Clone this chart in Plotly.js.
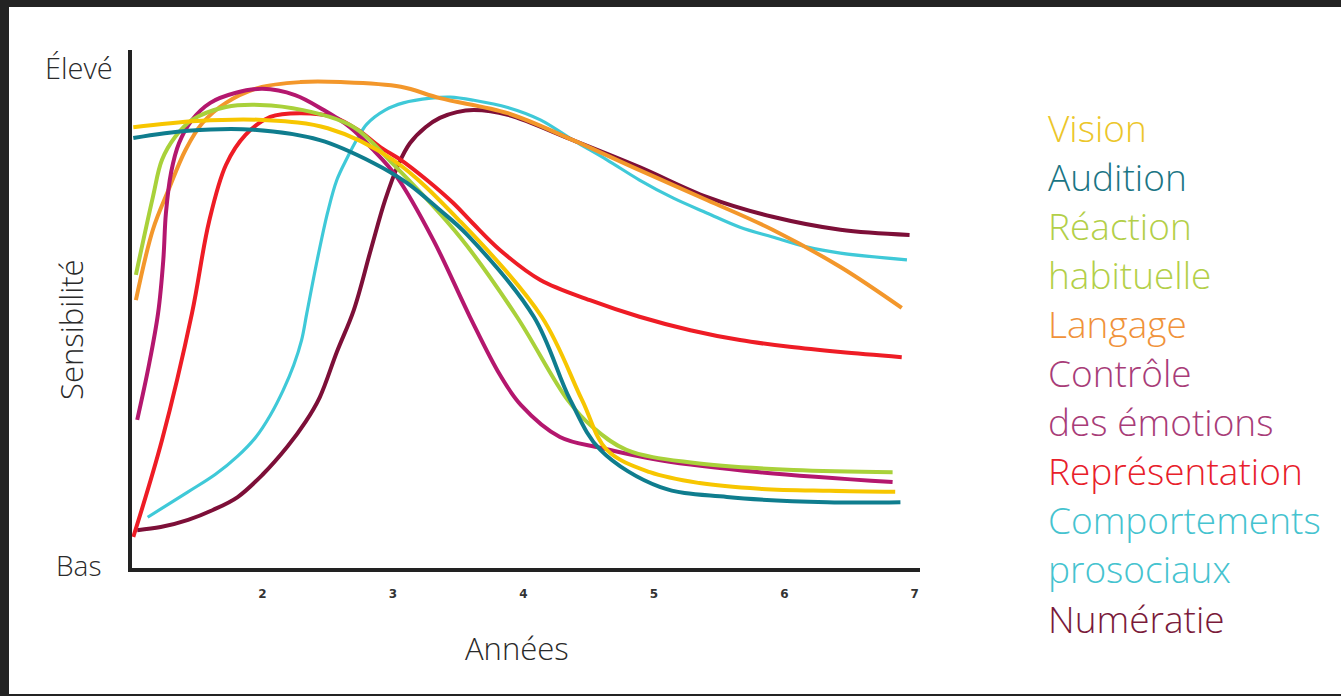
<!DOCTYPE html>
<html>
<head>
<meta charset="utf-8">
<script src="https://cdn.plot.ly/plotly-3.0.1.min.js"></script>
<style>
  html, body { margin: 0; padding: 0; background: #232323; width: 1341px; height: 696px; overflow: hidden; }
  #chart { position: absolute; left: 9px; top: 7px; width: 1332px; height: 687px; background: #fff; }
</style>
</head>
<body>
<div id="chart"></div>
<script>
// ---- Data (x = années, y = sensibilité 0 = Bas, 100 = Élevé) ----
const seriesNames = ["Vision", "Audition", "Réaction habituelle", "Langage",
  "Contrôle des émotions", "Représentation", "Comportements prosociaux", "Numératie"];
const legendLabels = ["Vision", "Audition", "Réaction<br>habituelle", "Langage",
  "Contrôle<br>des émotions", "Représentation", "Comportements<br>prosociaux", "Numératie"];

const visionX = [1.01, 1.50, 2.00, 2.50, 3.00, 3.52, 4.14, 4.45, 4.64, 4.97, 5.35, 5.81, 6.35, 6.85];
const visionY = [85.1, 86.3, 86.5, 84.9, 78.8, 66.8, 48.5, 32.4, 22.8, 18.5, 16.4, 15.3, 14.9, 14.7];

const auditionX = [1.01, 1.43, 1.93, 2.44, 2.85, 3.11, 3.36, 3.57, 4.08, 4.36, 4.59, 5.05, 5.56, 6.33, 6.89];
const auditionY = [83.0, 84.4, 84.6, 82.6, 78.2, 74.3, 69.1, 64.3, 48.5, 32.4, 22.8, 15.6, 13.7, 12.7, 12.7];

const reactionX = [1.03, 1.16, 1.23, 1.33, 1.46, 1.72, 1.98, 2.31, 2.70, 3.00, 3.52, 3.95, 4.34, 4.53, 4.79, 5.30, 6.07, 6.83];
const reactionY = [56.6, 71.6, 78.8, 83.2, 86.5, 89.0, 89.4, 88.4, 85.1, 78.0, 63.7, 48.5, 32.4, 27.2, 22.8, 20.3, 18.9, 18.5];

const langageX = [1.03, 1.16, 1.28, 1.41, 1.54, 1.72, 1.97, 2.29, 2.60, 3.06, 3.36, 3.88, 4.38, 4.89, 5.41, 5.91, 6.43, 6.90];
const langageY = [51.7, 65.3, 73.0, 80.7, 85.9, 89.8, 92.7, 93.8, 93.8, 92.9, 90.7, 87.8, 82.6, 76.8, 71.0, 65.3, 58.1, 50.2];

const controleX = [1.04, 1.13, 1.20, 1.24, 1.26, 1.30, 1.36, 1.46, 1.60, 1.79, 2.00, 2.25, 2.47, 2.67, 2.85, 3.03, 3.31, 3.59, 3.82, 3.98, 4.28, 4.59, 5.05, 5.81, 6.83];
const controleY = [28.6, 39.2, 49.2, 59.5, 68.5, 76.4, 82.0, 86.5, 89.8, 91.7, 92.5, 91.3, 88.4, 85.1, 80.7, 75.5, 63.3, 48.5, 37.3, 31.5, 25.3, 23.2, 20.8, 18.5, 16.6];

const representationX = [1.01, 1.23, 1.46, 1.59, 1.72, 1.87, 2.06, 2.29, 2.54, 2.73, 2.90, 3.06, 3.26, 3.46, 3.61, 3.82, 4.13, 4.51, 4.89, 5.28, 5.66, 6.04, 6.43, 6.90];
const representationY = [6.0, 24.7, 49.2, 66.8, 77.8, 83.6, 87.1, 87.8, 87.1, 84.6, 81.3, 78.8, 74.9, 70.5, 66.6, 61.4, 55.6, 51.7, 48.5, 45.9, 44.0, 42.7, 41.7, 40.7];

const prosociauxX = [1.12, 1.43, 1.64, 1.81, 1.95, 2.06, 2.16, 2.24, 2.30, 2.34, 2.42, 2.50, 2.57, 2.65, 2.73, 2.80, 2.94, 3.08, 3.29, 3.44, 3.62, 3.88, 4.13, 4.38, 4.64, 4.89, 5.15, 5.41, 5.66, 5.91, 6.17, 6.43, 6.94];
const prosociauxY = [9.8, 14.7, 18.1, 21.6, 25.3, 29.5, 34.4, 39.2, 44.0, 49.2, 59.5, 68.7, 74.9, 79.2, 83.0, 85.7, 88.4, 89.8, 90.7, 90.9, 90.3, 88.9, 86.5, 82.6, 78.8, 74.9, 71.4, 68.5, 65.8, 63.9, 62.0, 60.8, 59.5];

const numeratieX = [1.04, 1.22, 1.43, 1.62, 1.81, 2.00, 2.19, 2.33, 2.44, 2.57, 2.70, 2.83, 2.94, 3.04, 3.13, 3.25, 3.36, 3.49, 3.62, 3.88, 4.38, 4.89, 5.41, 5.91, 6.43, 6.96];
const numeratieY = [7.3, 7.9, 9.3, 11.2, 13.7, 18.0, 23.4, 28.2, 33.0, 41.7, 49.8, 61.4, 71.0, 77.8, 82.0, 85.1, 86.9, 88.0, 88.4, 87.5, 82.6, 77.4, 71.6, 67.8, 65.3, 64.3];

const xTickVals = [2, 3, 4, 5, 6, 7];
const xTickText = ["2", "3", "4", "5", "6", "7"];
const yLevelLabels = ["Bas", "Élevé"];
const xTitle = "Années";
const yTitle = "Sensibilité";

// ---- Styles ----
const lineColors = ["#f7c600", "#0f7d8e", "#a9d13a", "#f3972b", "#b4176e", "#ee1c25", "#3fc9d8", "#7d0f38"];
const textColors = ["#ecc62a", "#1a7584", "#b3cf48", "#f0923a", "#a83c78", "#e8202a", "#45c3cf", "#7a1a3a"];
const lineWidths = [4, 4, 4, 4, 4, 4, 3.2, 4];

const xs = [visionX, auditionX, reactionX, langageX, controleX, representationX, prosociauxX, numeratieX];
const ys = [visionY, auditionY, reactionY, langageY, controleY, representationY, prosociauxY, numeratieY];

// draw order (back to front)
const order = [6, 7, 3, 5, 4, 2, 0, 1];
const traces = order.map(i => ({
  type: "scatter", mode: "lines", name: seriesNames[i],
  x: xs[i], y: ys[i],
  line: { color: lineColors[i], width: lineWidths[i], shape: "spline", smoothing: 1 },
  hoverinfo: "name"
}));

const W = 1332, H = 687;
const M = { l: 123, r: 421, t: 43, b: 126 };
const pw = W - M.l - M.r, ph = H - M.t - M.b;
const px2paperX = px => (px - M.l) / pw;
const px2paperY = py => (H - M.b - py) / ph;
const FONT = "Open Sans, sans-serif";

const annotations = [];
// Left labels Élevé / Bas
annotations.push({ xref: "paper", yref: "paper", x: px2paperX(70), y: px2paperY(60),
  text: yLevelLabels[1], showarrow: false, xanchor: "center", yanchor: "middle",
  font: { family: FONT, size: 29, color: "#2a2a2a", weight: 300 } });
annotations.push({ xref: "paper", yref: "paper", x: px2paperX(69), y: px2paperY(558),
  text: yLevelLabels[0], showarrow: false, xanchor: "center", yanchor: "middle",
  font: { family: FONT, size: 28, color: "#2a2a2a", weight: 300 } });
// Y title (rotated)
annotations.push({ xref: "paper", yref: "paper", x: px2paperX(62), y: px2paperY(323),
  text: yTitle, showarrow: false, textangle: -90, xanchor: "center", yanchor: "middle",
  font: { family: FONT, size: 31, color: "#2a2a2a", weight: 300 } });
// X title
annotations.push({ xref: "paper", yref: "paper", x: px2paperX(508), y: px2paperY(641),
  text: xTitle, showarrow: false, xanchor: "center", yanchor: "middle",
  font: { family: FONT, size: 31, color: "#2a2a2a", weight: 300 } });

// Coloured legend text on the right
let lineIdx = 0;
legendLabels.forEach((lab, i) => {
  lab.split("<br>").forEach(part => {
    const py = 120 + lineIdx * 49.1;
    annotations.push({ xref: "paper", yref: "paper", x: px2paperX(1037), y: px2paperY(py),
      text: part, showarrow: false, xanchor: "left", yanchor: "middle",
      font: { family: FONT, size: 37, color: textColors[i], weight: 300 } });
    lineIdx++;
  });
});

const layout = {
  width: W, height: H,
  margin: M,
  paper_bgcolor: "#ffffff", plot_bgcolor: "#ffffff",
  showlegend: false,
  xaxis: {
    range: [1, 7.04], showgrid: false, zeroline: false,
    showline: true, linecolor: "#222", linewidth: 4,
    tickvals: xTickVals, ticktext: xTickText, ticks: "",
    ticklabelstandoff: 12,
    tickfont: { family: "DejaVu Sans, Arial, sans-serif", size: 12, color: "#333", weight: "bold" }
  },
  yaxis: {
    range: [0, 100], showgrid: false, zeroline: false,
    showline: true, linecolor: "#222", linewidth: 4,
    showticklabels: false, ticks: ""
  },
  annotations: annotations
};

Plotly.newPlot("chart", traces, layout, { displayModeBar: false, responsive: false });
</script>
</body>
</html>
